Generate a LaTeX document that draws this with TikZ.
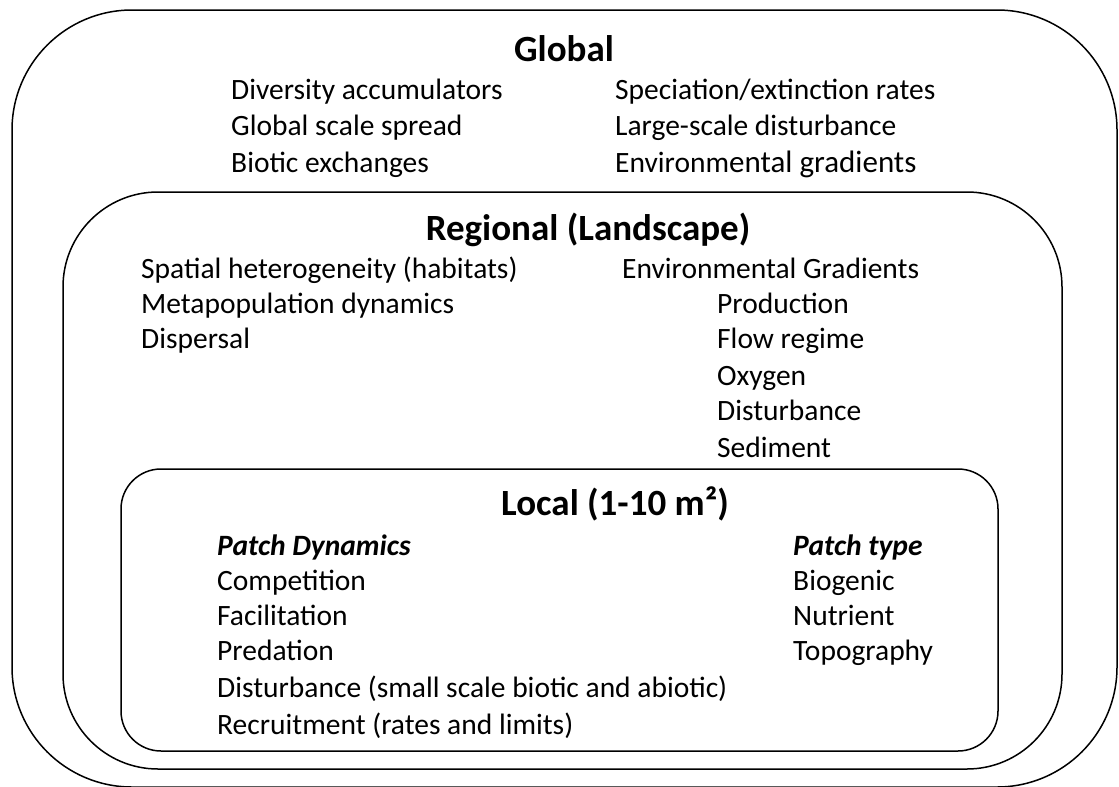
\documentclass[tikz,border=0pt]{standalone}
\usepackage{fontspec}
\setmainfont{Carlito}
\begin{document}
\begin{tikzpicture}[x=1pt,y=-1pt,
  box/.style={draw, line width=1.5pt},
  body/.style={anchor=base west, inner sep=0pt, font=\fontsize{29.5}{35}\selectfont},
  sub/.style={anchor=base west, inner sep=0pt, font=\fontsize{29.5}{35}\selectfont\bfseries\itshape},
  ttl/.style={anchor=base, inner sep=0pt, font=\fontsize{37}{42}\selectfont\bfseries}]
\useasboundingbox (0,0) rectangle (1119,787);
% boxes
\draw[box, rounded corners=120pt] (12,10) rectangle (1117,787);
\draw[box, rounded corners=95pt] (63,192) rectangle (1062,769);
\draw[box, rounded corners=40pt] (121,469) rectangle (998,751);
% Global
\node[ttl] (tglobal) at (564,61) {Global};
\node[body] (g1) at (231,99) {Diversity accumulators};
\node[body] (g2) at (231,135) {Global scale spread};
\node[body] (g3) at (231,172) {Biotic exchanges};
\node[body] (g4) at (615,99) {Speciation/extinction rates};
\node[body] (g5) at (615,135) {Large-scale disturbance};
\node[body] (g6) at (615,172) {Environm{\fontsize{31}{35}\selectfont ental gradients}};
% Regional
\node[ttl] (tregional) at (588,240) {Regional (Landscape)};
\node[body] (r1) at (141,278) {Spatial heterogeneity (habitats)};
\node[body] (r2) at (141,313) {Metapopulation dynamics};
\node[body] (r3) at (141,348) {Dispersal};
\node[body] (r4) at (622,278) {Environmental Gradients};
\node[body] (r5) at (717,313) {Production};
\node[body] (r6) at (717,348) {Flow regime};
\node[body] (r7) at (717,385) {Oxygen};
\node[body] (r8) at (717,420) {Disturbance};
\node[body] (r9) at (717,457) {Sediment};
% Local
\node[ttl] (tlocal) at (615,515) {Local (1-10 m²)};
\node[sub] (l0) at (217,555) {Patch Dynamics};
\node[body] (l1) at (217,590) {Competition};
\node[body] (l2) at (217,625) {Facilitation};
\node[body] (l3) at (217,660) {Predation};
\node[body] (l4) at (217,697) {Disturbance (small scale biotic and abiotic)};
\node[body] (l5) at (217,734) {Recruitment (rates and limits)};
\node[sub] (p0) at (793,555) {Patch type};
\node[body] (p1) at (793,590) {Biogenic};
\node[body] (p2) at (793,625) {Nutrient};
\node[body] (p3) at (793,660) {Topography};
\end{tikzpicture}
\end{document}
